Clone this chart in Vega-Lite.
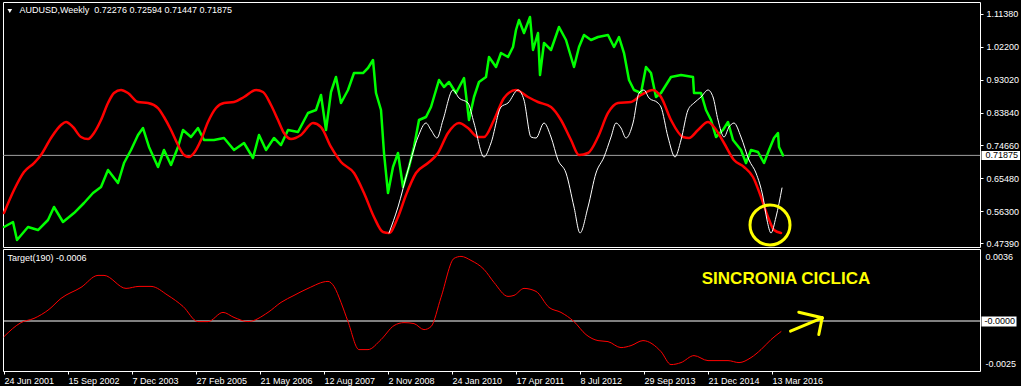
{
  "$schema": "https://vega.github.io/schema/vega-lite/v6.json",
  "background": "#000000",
  "padding": {"left": 2, "top": 1, "right": 0, "bottom": 0},
  "bounds": "flush",
  "spacing": 2,
  "config": {
    "view": {"stroke": "#ffffff", "strokeWidth": 1},
    "axis": {"labelFont": "Liberation Sans", "labelFontSize": 9, "labelColor": "#ffffff", "tickColor": "#ffffff", "domain": false, "grid": false, "labelOverlap": false, "labelFlush": false},
    "line": {"strokeJoin": "round", "strokeCap": "round", "clip": true},
    "text": {"font": "Liberation Sans", "fontSize": 9}
  },
  "datasets": {
    "price": [
      {"week":0,"close":0.5186},{"week":9,"close":0.5326},{"week":13,"close":0.4823},{"week":24,"close":0.5186},{"week":34,"close":0.5102},{"week":44,"close":0.5382},{"week":50,"close":0.5745},{"week":59,"close":0.5326},{"week":70,"close":0.5577},{"week":80,"close":0.5857},{"week":89,"close":0.6136},{"week":97,"close":0.6304},{"week":104,"close":0.6779},{"week":114,"close":0.6416},{"week":120,"close":0.6974},{"week":127,"close":0.7338},{"week":134,"close":0.7757},{"week":139,"close":0.7952},{"week":145,"close":0.7422},{"week":154,"close":0.6863},{"week":160,"close":0.7338},{"week":167,"close":0.6919},{"week":174,"close":0.7422},{"week":179,"close":0.7897},{"week":187,"close":0.7701},{"week":194,"close":0.7952},{"week":200,"close":0.7617},{"week":210,"close":0.7617},{"week":220,"close":0.7673},{"week":230,"close":0.7338},{"week":240,"close":0.7533},{"week":249,"close":0.7114},{"week":255,"close":0.7757},{"week":262,"close":0.7338},{"week":270,"close":0.7673},{"week":277,"close":0.7477},{"week":284,"close":0.7897},{"week":294,"close":0.7841},{"week":304,"close":0.8372},{"week":312,"close":0.8455},{"week":317,"close":0.8875},{"week":322,"close":0.7897},{"week":327,"close":0.8958},{"week":332,"close":0.9378},{"week":337,"close":0.8651},{"week":344,"close":0.9014},{"week":350,"close":0.9489},{"week":359,"close":0.9489},{"week":364,"close":0.9629},{"week":369,"close":0.9853},{"week":372,"close":0.8930},{"week":377,"close":0.8455},{"week":380,"close":0.7254},{"week":384,"close":0.6136},{"week":389,"close":0.6863},{"week":394,"close":0.7254},{"week":399,"close":0.6304},{"week":405,"close":0.6863},{"week":410,"close":0.7422},{"week":415,"close":0.8176},{"week":422,"close":0.8260},{"week":427,"close":0.8539},{"week":435,"close":0.9294},{"week":440,"close":0.9098},{"week":445,"close":0.9238},{"week":452,"close":0.8930},{"week":460,"close":0.9350},{"week":465,"close":0.8176},{"week":470,"close":0.8819},{"week":475,"close":0.9238},{"week":482,"close":0.9378},{"week":485,"close":0.9936},{"week":492,"close":0.9657},{"week":497,"close":1.0048},{"week":504,"close":0.9936},{"week":509,"close":1.0216},{"week":512,"close":1.0691},{"week":515,"close":1.0970},{"week":520,"close":1.0607},{"week":526,"close":1.1054},{"week":529,"close":1.0132},{"week":534,"close":1.0607},{"week":536,"close":0.9433},{"week":540,"close":1.0328},{"week":547,"close":1.0132},{"week":555,"close":1.0775},{"week":562,"close":1.0411},{"week":570,"close":0.9657},{"week":575,"close":1.0216},{"week":580,"close":1.0551},{"week":587,"close":1.0411},{"week":594,"close":1.0495},{"week":604,"close":1.0551},{"week":610,"close":1.0216},{"week":615,"close":1.0495},{"week":620,"close":1.0048},{"week":625,"close":0.9294},{"week":630,"close":0.9014},{"week":637,"close":0.8930},{"week":642,"close":0.9657},{"week":647,"close":0.9489},{"week":652,"close":0.8819},{"week":657,"close":0.8930},{"week":667,"close":0.9378},{"week":677,"close":0.9433},{"week":689,"close":0.9378},{"week":690,"close":0.8930},{"week":697,"close":0.8930},{"week":702,"close":0.8455},{"week":707,"close":0.8176},{"week":712,"close":0.7701},{"week":719,"close":0.7897},{"week":724,"close":0.8120},{"week":729,"close":0.7617},{"week":737,"close":0.7338},{"week":742,"close":0.6974},{"week":747,"close":0.7338},{"week":754,"close":0.7282},{"week":760,"close":0.6974},{"week":765,"close":0.7338},{"week":770,"close":0.7673},{"week":774,"close":0.7813},{"week":775,"close":0.7422},{"week":779,"close":0.71875}
    ],
    "cycle": [
      {"week":0,"cycle":0.5577},{"week":10,"cycle":0.6220},{"week":20,"cycle":0.6723},{"week":30,"cycle":0.6974},{"week":37,"cycle":0.7198},{"week":47,"cycle":0.7673},{"week":57,"cycle":0.8036},{"week":62,"cycle":0.8120},{"week":69,"cycle":0.7980},{"week":77,"cycle":0.7701},{"week":84,"cycle":0.7645},{"week":90,"cycle":0.7813},{"week":97,"cycle":0.8176},{"week":104,"cycle":0.8651},{"week":110,"cycle":0.8930},{"week":117,"cycle":0.9014},{"week":124,"cycle":0.8930},{"week":134,"cycle":0.8679},{"week":144,"cycle":0.8651},{"week":154,"cycle":0.8511},{"week":160,"cycle":0.8260},{"week":167,"cycle":0.7897},{"week":174,"cycle":0.7477},{"week":180,"cycle":0.7198},{"week":185,"cycle":0.7142},{"week":190,"cycle":0.7254},{"week":197,"cycle":0.7617},{"week":204,"cycle":0.8120},{"week":212,"cycle":0.8511},{"week":220,"cycle":0.8651},{"week":230,"cycle":0.8679},{"week":240,"cycle":0.8819},{"week":252,"cycle":0.9014},{"week":259,"cycle":0.8958},{"week":267,"cycle":0.8595},{"week":274,"cycle":0.8176},{"week":280,"cycle":0.7813},{"week":287,"cycle":0.7645},{"week":297,"cycle":0.7757},{"week":309,"cycle":0.8092},{"week":317,"cycle":0.7980},{"week":327,"cycle":0.7422},{"week":337,"cycle":0.7002},{"week":350,"cycle":0.6695},{"week":360,"cycle":0.6136},{"week":370,"cycle":0.5466},{"week":379,"cycle":0.5046},{"week":385,"cycle":0.5019},{"week":394,"cycle":0.5466},{"week":402,"cycle":0.6080},{"week":412,"cycle":0.6695},{"week":424,"cycle":0.6974},{"week":434,"cycle":0.7254},{"week":444,"cycle":0.7813},{"week":455,"cycle":0.8092},{"week":464,"cycle":0.7952},{"week":474,"cycle":0.7701},{"week":480,"cycle":0.7701},{"week":490,"cycle":0.8176},{"week":500,"cycle":0.8791},{"week":512,"cycle":0.9014},{"week":524,"cycle":0.8819},{"week":534,"cycle":0.8679},{"week":547,"cycle":0.8539},{"week":557,"cycle":0.8176},{"week":567,"cycle":0.7617},{"week":575,"cycle":0.7198},{"week":584,"cycle":0.7254},{"week":594,"cycle":0.7701},{"week":604,"cycle":0.8372},{"week":614,"cycle":0.8651},{"week":627,"cycle":0.8679},{"week":637,"cycle":0.8875},{"week":649,"cycle":0.9014},{"week":657,"cycle":0.8819},{"week":667,"cycle":0.8176},{"week":679,"cycle":0.7701},{"week":685,"cycle":0.7673},{"week":694,"cycle":0.7897},{"week":704,"cycle":0.8120},{"week":710,"cycle":0.7980},{"week":720,"cycle":0.7533},{"week":730,"cycle":0.7058},{"week":740,"cycle":0.6863},{"week":749,"cycle":0.6583},{"week":757,"cycle":0.6024},{"week":764,"cycle":0.5466},{"week":770,"cycle":0.5102},{"week":777,"cycle":0.5019}
    ],
    "projection": [
      {"week":385,"projection":0.5019},{"week":394,"projection":0.5745},{"week":404,"projection":0.6779},{"week":414,"projection":0.7701},{"week":422,"projection":0.8092},{"week":427,"projection":0.7897},{"week":433,"projection":0.7673},{"week":439,"projection":0.8176},{"week":449,"projection":0.9014},{"week":455,"projection":0.8791},{"week":464,"projection":0.8651},{"week":470,"projection":0.8092},{"week":480,"projection":0.7142},{"week":487,"projection":0.7533},{"week":497,"projection":0.8539},{"week":504,"projection":0.8651},{"week":514,"projection":0.9014},{"week":520,"projection":0.8735},{"week":527,"projection":0.7701},{"week":532,"projection":0.7673},{"week":540,"projection":0.8092},{"week":547,"projection":0.7701},{"week":554,"projection":0.7058},{"week":562,"projection":0.6695},{"week":570,"projection":0.5745},{"week":576,"projection":0.5019},{"week":584,"projection":0.5745},{"week":592,"projection":0.6695},{"week":600,"projection":0.7142},{"week":607,"projection":0.7701},{"week":612,"projection":0.8092},{"week":617,"projection":0.7952},{"week":622,"projection":0.7673},{"week":629,"projection":0.8092},{"week":635,"projection":0.8930},{"week":640,"projection":0.9014},{"week":645,"projection":0.8791},{"week":654,"projection":0.8651},{"week":657,"projection":0.8539},{"week":664,"projection":0.7701},{"week":671,"projection":0.7142},{"week":677,"projection":0.7617},{"week":684,"projection":0.8455},{"week":690,"projection":0.8651},{"week":697,"projection":0.8819},{"week":704,"projection":0.9014},{"week":709,"projection":0.8819},{"week":714,"projection":0.8176},{"week":720,"projection":0.7701},{"week":725,"projection":0.7980},{"week":730,"projection":0.8092},{"week":737,"projection":0.7701},{"week":745,"projection":0.7058},{"week":752,"projection":0.6695},{"week":759,"projection":0.6024},{"week":763,"projection":0.5382},{"week":767,"projection":0.5019},{"week":772,"projection":0.5466},{"week":778,"projection":0.6276}
    ],
    "target": [
      {"week":0,"target":-0.00078},{"week":17,"target":-0.00008},{"week":30,"target":0.00013},{"week":45,"target":0.00058},{"week":57,"target":0.00113},{"week":77,"target":0.00168},{"week":94,"target":0.00228},{"week":100,"target":0.00228},{"week":122,"target":0.00163},{"week":135,"target":0.00173},{"week":147,"target":0.00173},{"week":164,"target":0.00128},{"week":179,"target":0.00073},{"week":194,"target":-0.00003},{"week":204,"target":-0.00003},{"week":219,"target":0.00043},{"week":230,"target":0.00018},{"week":244,"target":-0.00003},{"week":264,"target":0.00043},{"week":277,"target":0.00093},{"week":290,"target":0.00128},{"week":304,"target":0.00163},{"week":324,"target":0.00198},{"week":330,"target":0.00173},{"week":337,"target":0.00093},{"week":344,"target":-0.00003},{"week":355,"target":-0.00143},{"week":364,"target":-0.00143},{"week":377,"target":-0.00093},{"week":390,"target":-0.00023},{"week":400,"target":-0.00008},{"week":410,"target":-0.00013},{"week":420,"target":-0.00043},{"week":427,"target":-0.00028},{"week":437,"target":0.00118},{"week":450,"target":0.00313},{"week":457,"target":0.00323},{"week":467,"target":0.00303},{"week":480,"target":0.00258},{"week":490,"target":0.00193},{"week":504,"target":0.00123},{"week":510,"target":0.00128},{"week":520,"target":0.00163},{"week":532,"target":0.00148},{"week":545,"target":0.00068},{"week":557,"target":0.00043},{"week":570,"target":-0.00003},{"week":582,"target":-0.00068},{"week":594,"target":-0.00098},{"week":604,"target":-0.00103},{"week":617,"target":-0.00133},{"week":627,"target":-0.00123},{"week":639,"target":-0.00098},{"week":657,"target":-0.00153},{"week":667,"target":-0.00218},{"week":677,"target":-0.00208},{"week":690,"target":-0.00173},{"week":704,"target":-0.00198},{"week":724,"target":-0.00198},{"week":735,"target":-0.00208},{"week":747,"target":-0.00183},{"week":757,"target":-0.00143},{"week":767,"target":-0.00093},{"week":777,"target":-0.00053}
    ]
  },
  "vconcat": [
    {
      "width": 977,
      "height": 245,
      "layer": [
        {
          "data": {"values": [{}]},
          "mark": {"type": "rule", "color": "#a0a0a0", "strokeWidth": 1},
          "encoding": {"y": {"datum": 0.71875, "type": "quantitative", "title": null, "scale": {"domain": [0.46274, 1.14733], "nice": false, "zero": false},
            "axis": {"orient": "right", "title": null, "values": [0.4739, 0.563, 0.6548, 0.7466, 0.8384, 0.9302, 1.022, 1.1138], "tickCount": 30, "format": ".5f", "tickSize": 3, "labelPadding": 3, "labelOverlap": false, "labelBound": false}}}
        },
        {
          "data": {"name": "price"},
          "mark": {"type": "line", "color": "#00ff00", "strokeWidth": 2.5},
          "encoding": {
            "x": {"field": "week", "type": "quantitative", "scale": {"domain": [-1, 976], "nice": false, "zero": false}, "axis": null},
            "y": {"field": "close", "type": "quantitative", "title": null, "scale": {"domain": [0.46274, 1.14733], "nice": false, "zero": false},
              "axis": {"orient": "right", "title": null, "values": [0.4739, 0.563, 0.6548, 0.7466, 0.8384, 0.9302, 1.022, 1.1138], "tickCount": 30, "format": ".5f", "tickSize": 3, "labelPadding": 3, "labelOverlap": false, "labelBound": false}}
          }
        },
        {
          "data": {"name": "cycle"},
          "mark": {"type": "line", "color": "#ff0000", "strokeWidth": 2.5, "interpolate": "monotone"},
          "encoding": {
            "x": {"field": "week", "type": "quantitative", "axis": null},
            "y": {"field": "cycle", "type": "quantitative", "title": null}
          }
        },
        {
          "data": {"name": "projection"},
          "mark": {"type": "line", "color": "#ffffff", "strokeWidth": 1, "interpolate": "monotone"},
          "encoding": {
            "x": {"field": "week", "type": "quantitative", "axis": null},
            "y": {"field": "projection", "type": "quantitative", "title": null}
          }
        },
        {
          "data": {"values": [{}]},
          "mark": {"type": "point", "shape": "circle", "size": 1600, "filled": false, "color": "#ffff00", "strokeWidth": 3, "opacity": 1, "clip": false},
          "encoding": {
            "x": {"datum": 766, "type": "quantitative", "axis": null},
            "y": {"datum": 0.5242, "type": "quantitative", "title": null}
          }
        },
        {
          "data": {"values": [{}]},
          "mark": {"type": "point", "shape": "triangle-down", "size": 22, "filled": true, "color": "#ffffff", "opacity": 1},
          "encoding": {
            "x": {"datum": 5.8, "type": "quantitative", "axis": null},
            "y": {"datum": 1.1222, "type": "quantitative", "title": null}
          }
        },
        {
          "data": {"values": [{}]},
          "mark": {"type": "text", "text": "AUDUSD,Weekly\u00a0 0.72276 0.72594 0.71447 0.71875", "color": "#ffffff", "align": "left", "baseline": "middle", "font": "Liberation Sans", "fontSize": 9},
          "encoding": {
            "x": {"datum": 15.5, "type": "quantitative", "axis": null},
            "y": {"datum": 1.1236, "type": "quantitative", "title": null}
          }
        },
        {
          "data": {"values": [{}]},
          "mark": {"type": "rect", "color": "#ffffff", "clip": false},
          "encoding": {
            "x": {"datum": 977.5, "type": "quantitative", "axis": null},
            "x2": {"datum": 1016},
            "y": {"datum": 0.7310, "type": "quantitative", "title": null},
            "y2": {"datum": 0.7058}
          }
        },
        {
          "data": {"values": [{}]},
          "mark": {"type": "text", "text": "0.71875", "color": "#000000", "align": "left", "baseline": "middle", "font": "Liberation Sans", "fontSize": 9, "clip": false},
          "encoding": {
            "x": {"datum": 981.5, "type": "quantitative", "axis": null},
            "y": {"datum": 0.7190, "type": "quantitative", "title": null}
          }
        }
      ]
    },
    {
      "width": 977,
      "height": 122,
      "layer": [
        {
          "data": {"values": [{}]},
          "mark": {"type": "rule", "color": "#ffffff", "strokeWidth": 1},
          "encoding": {"y": {"datum": 0, "type": "quantitative", "title": null, "scale": {"domain": [-0.0025, 0.0036], "nice": false, "zero": false},
            "axis": {"orient": "right", "title": null, "values": [0.003225, -0.00214], "labelExpr": "datum.value > 0 ? '0.0036' : '-0.0025'", "tickOpacity": 0, "tickSize": 3, "labelPadding": 2, "labelOverlap": false}}}
        },
        {
          "data": {"name": "target"},
          "mark": {"type": "line", "color": "#ff0000", "strokeWidth": 1, "interpolate": "monotone"},
          "encoding": {
            "x": {"field": "week", "type": "quantitative", "title": null, "scale": {"domain": [-1, 976], "nice": false, "zero": false},
              "axis": {"title": null, "values": [0, 64, 128, 192, 256, 320, 384, 448, 512, 576, 640, 704, 768], "tickCount": 40, "labelExpr": "['24 Jun 2001','15 Sep 2002','7 Dec 2003','27 Feb 2005','21 May 2006','12 Aug 2007','2 Nov 2008','24 Jan 2010','17 Apr 2011','8 Jul 2012','29 Sep 2013','21 Dec 2014','13 Mar 2016'][round(datum.value/64)]", "labelAlign": "left", "tickSize": 3, "labelPadding": 2, "labelOverlap": false, "labelBound": false}},
            "y": {"field": "target", "type": "quantitative", "title": null, "scale": {"domain": [-0.0025, 0.0036], "nice": false, "zero": false},
              "axis": {"orient": "right", "title": null, "values": [0.003225, -0.00214], "labelExpr": "datum.value > 0 ? '0.0036' : '-0.0025'", "tickOpacity": 0, "tickSize": 3, "labelPadding": 2, "labelOverlap": false}}
          }
        },
        {
          "data": {"values": [{}]},
          "mark": {"type": "rule", "color": "#ffff00", "strokeWidth": 3, "strokeCap": "round", "clip": false},
          "encoding": {
            "x": {"datum": 786.5, "type": "quantitative", "title": null},
            "x2": {"datum": 818.2},
            "y": {"datum": -0.00051, "type": "quantitative", "title": null},
            "y2": {"datum": 0.00016}
          }
        },
        {
          "data": {"values": [{}]},
          "mark": {"type": "rule", "color": "#ffff00", "strokeWidth": 3, "strokeCap": "round", "clip": false},
          "encoding": {
            "x": {"datum": 794.8, "type": "quantitative", "title": null},
            "x2": {"datum": 818.2},
            "y": {"datum": 0.00044, "type": "quantitative", "title": null},
            "y2": {"datum": 0.00016}
          }
        },
        {
          "data": {"values": [{}]},
          "mark": {"type": "rule", "color": "#ffff00", "strokeWidth": 3, "strokeCap": "round", "clip": false},
          "encoding": {
            "x": {"datum": 814.8, "type": "quantitative", "title": null},
            "x2": {"datum": 818.2},
            "y": {"datum": -0.000675, "type": "quantitative", "title": null},
            "y2": {"datum": 0.00016}
          }
        },
        {
          "data": {"values": [{}]},
          "mark": {"type": "text", "text": "SINCRONIA CICLICA", "color": "#ffff00", "align": "center", "baseline": "middle", "font": "Liberation Sans", "fontSize": 17, "fontWeight": "bold"},
          "encoding": {
            "x": {"datum": 782, "type": "quantitative", "title": null},
            "y": {"datum": 0.002125, "type": "quantitative", "title": null}
          }
        },
        {
          "data": {"values": [{}]},
          "mark": {"type": "text", "text": "Target(190) -0.0006", "color": "#ffffff", "align": "left", "baseline": "middle", "font": "Liberation Sans", "fontSize": 9},
          "encoding": {
            "x": {"datum": 3.5, "type": "quantitative", "title": null},
            "y": {"datum": 0.003175, "type": "quantitative", "title": null}
          }
        },
        {
          "data": {"values": [{}]},
          "mark": {"type": "rect", "color": "#ffffff", "clip": false},
          "encoding": {
            "x": {"datum": 977.5, "type": "quantitative", "title": null},
            "x2": {"datum": 1012.5},
            "y": {"datum": 0.000225, "type": "quantitative", "title": null},
            "y2": {"datum": -0.000275}
          }
        },
        {
          "data": {"values": [{}]},
          "mark": {"type": "text", "text": "-0.0000", "color": "#000000", "align": "left", "baseline": "middle", "font": "Liberation Sans", "fontSize": 9, "clip": false},
          "encoding": {
            "x": {"datum": 980.5, "type": "quantitative", "title": null},
            "y": {"datum": 0, "type": "quantitative", "title": null}
          }
        }
      ]
    }
  ]
}
